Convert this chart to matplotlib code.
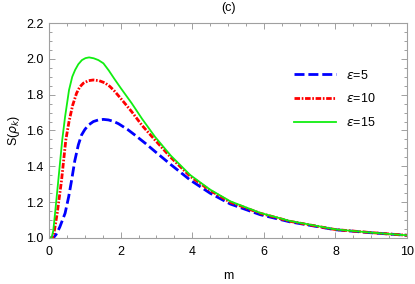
import numpy as np
import matplotlib
matplotlib.use('Agg')
import matplotlib.pyplot as plt
from matplotlib.ticker import MultipleLocator

plt.rcParams['font.family'] = ['Liberation Sans', 'DejaVu Sans']
plt.rcParams['mathtext.fontset'] = 'dejavusans'

# values
m_eps5 = [0, 0.12, 0.2, 0.3, 0.45, 0.55, 0.63, 0.72, 0.82, 0.91, 1.0, 1.1, 1.24, 1.38, 1.52, 1.66,
          1.8, 1.94, 2.2, 2.41, 2.7, 2.96, 3.4, 3.94, 4.5, 5.06, 5.9, 6.73, 8, 9, 10]
s_eps5 = [1.0, 1.0, 1.02, 1.06, 1.138, 1.23, 1.32, 1.43, 1.52, 1.575, 1.605, 1.63, 1.65, 1.659, 1.662, 1.659,
          1.651, 1.638, 1.605, 1.573, 1.527, 1.483, 1.41, 1.324, 1.25, 1.19, 1.13, 1.09, 1.046, 1.029, 1.015]

m_eps10 = [0, 0.1, 0.15, 0.23, 0.35, 0.47, 0.56, 0.66, 0.77, 0.86, 0.96, 1.1, 1.24, 1.4, 1.56, 1.7,
           1.82, 2.0, 2.31, 2.6, 2.96, 3.4, 3.94, 4.5, 5.06, 5.9, 6.73, 8, 9, 10]
s_eps10 = [1.0, 1.0, 1.04, 1.138, 1.32, 1.547, 1.65, 1.74, 1.808, 1.843, 1.864, 1.878, 1.882, 1.878, 1.866, 1.846,
           1.822, 1.78, 1.705, 1.628, 1.547, 1.45, 1.345, 1.265, 1.20, 1.138, 1.093, 1.047, 1.03, 1.015]

m_eps15 = [0, 0.07, 0.12, 0.17, 0.26, 0.37, 0.45, 0.56, 0.65, 0.73, 0.82, 0.92, 1.02, 1.12, 1.25, 1.38,
           1.52, 1.67, 1.82, 2.0, 2.31, 2.6, 2.96, 3.4, 3.94, 4.5, 5.06, 5.9, 6.73, 8, 9, 10]
s_eps15 = [1.0, 1.0, 1.04, 1.138, 1.32, 1.547, 1.677, 1.826, 1.90, 1.938, 1.97, 1.993, 2.004, 2.008, 2.003, 1.993,
           1.975, 1.935, 1.89, 1.838, 1.752, 1.665, 1.565, 1.46, 1.352, 1.27, 1.205, 1.14, 1.095, 1.048, 1.03, 1.015]

labels = ['$\\epsilon$=5', '$\\epsilon$=10', '$\\epsilon$=15']

fig = plt.figure(figsize=(4.15, 2.84), dpi=100)
ax = fig.add_axes([0.118, 0.162, 0.863, 0.757])

ax.plot(m_eps5, s_eps5, color='#0000ff', lw=2.0, ls=(0, (3.6, 1.4)), label=labels[0])
ax.plot(m_eps10, s_eps10, color='#ff0000', lw=2.0, ls=(0, (2.0, 0.6, 0.6, 0.6)), label=labels[1])
ax.plot(m_eps15, s_eps15, color='#11ee11', lw=1.3, label=labels[2])

ax.set_xlim(0, 10)
ax.set_ylim(1.0, 2.2)
ax.xaxis.set_minor_locator(MultipleLocator(0.5))
ax.yaxis.set_minor_locator(MultipleLocator(0.05))
ax.set_xticks(np.arange(0, 11, 2))
ax.set_xticklabels(['0', '2', '4', '6', '8', '10'])
ax.set_yticks(np.arange(1.0, 2.21, 0.2))
ax.set_yticklabels(['1.0', '1.2', '1.4', '1.6', '1.8', '2.0', '2.2'])

for sp in ax.spines.values():
    sp.set_color('#a0a0a0')
    sp.set_linewidth(0.8)
ax.tick_params(which='both', direction='in', top=True, right=True, color='#a0a0a0', width=0.7)
ax.tick_params(which='major', length=4, labelsize=9)
ax.tick_params(which='minor', length=2)
ax.tick_params(axis='x', pad=6)
ax.tick_params(axis='y', pad=4)

ax.set_xlabel('m', fontsize=9)
ax.xaxis.set_label_coords(0.5, -0.15)
ax.set_ylabel('S($\\rho_k$)', fontsize=9, labelpad=3)
ax.set_title('(c)', fontsize=9, pad=9)

ax.legend(loc='upper right', bbox_to_anchor=(0.944, 0.84), frameon=False, fontsize=9,
          handlelength=3.4, labelspacing=0.85, handletextpad=0.8)

fig.savefig('out.png', dpi=100)
